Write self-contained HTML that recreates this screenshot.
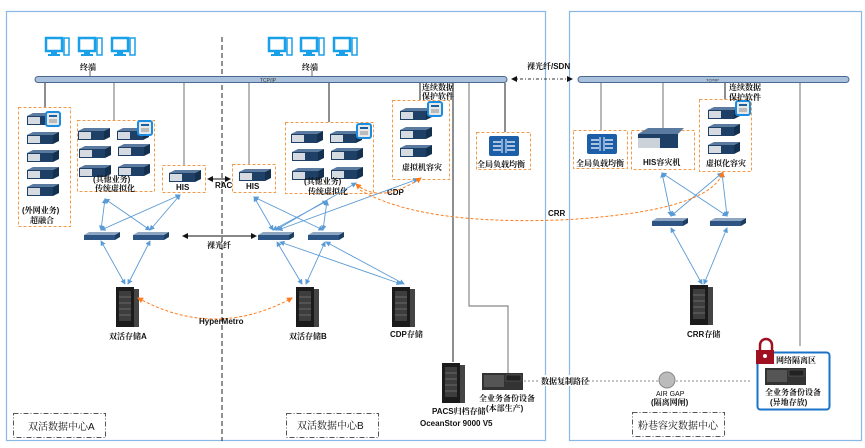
<!DOCTYPE html>
<html><head><meta charset="utf-8"><style>
html,body{margin:0;padding:0;background:#fff;}
svg{display:block;font-family:"Liberation Sans","Noto Serif CJK SC","Noto Sans CJK SC",sans-serif;}
.t{font-size:8px;font-weight:bold;fill:#111;}
</style></head><body>
<svg width="865" height="448" viewBox="0 0 865 448" xmlns="http://www.w3.org/2000/svg">
<defs>
<g id="srv">
<polygon points="0,3 6,0 32,0 26,3" fill="#5a7aa0"/>
<rect x="0" y="3" width="26" height="9" fill="#1e3f66"/>
<polygon points="26,3 32,0 32,9 26,12" fill="#14304f"/>
<rect x="1" y="4" width="12" height="7" fill="#d6dbe2"/>
</g>
<g id="mon">
<rect x="0" y="0" width="16" height="13" fill="#fff" stroke="#1aa0e8" stroke-width="2.5"/>
<rect x="5" y="14" width="6" height="2" fill="#1aa0e8"/>
<rect x="2" y="16" width="12" height="2" fill="#1aa0e8"/>
<rect x="18" y="0" width="5" height="17" fill="#fff" stroke="#1aa0e8" stroke-width="1.5"/>
</g>
<g id="sw">
<polygon points="0,3 5,0 36,0 31,3" fill="#8fa6c2"/>
<rect x="0" y="3" width="31" height="5" fill="#2d5482"/>
<polygon points="31,3 36,0 36,5 31,8" fill="#1c3c60"/>
</g>
<g id="tower">
<rect x="0" y="0" width="18" height="40" fill="#1b1b1b"/>
<rect x="18" y="2" width="5" height="38" fill="#444"/>
<rect x="3" y="4" width="12" height="30" fill="#555" opacity="0.6"/>
<line x1="3" y1="10" x2="15" y2="10" stroke="#888" stroke-width="0.6"/>
<line x1="3" y1="16" x2="15" y2="16" stroke="#888" stroke-width="0.6"/>
<line x1="3" y1="22" x2="15" y2="22" stroke="#888" stroke-width="0.6"/>
<line x1="3" y1="28" x2="15" y2="28" stroke="#888" stroke-width="0.6"/>
</g>
<g id="badge">
<rect x="0" y="0" width="14" height="14" rx="2" fill="#e8e8e8" stroke="#1a8de0" stroke-width="2"/>
<rect x="3" y="3" width="8" height="2" fill="#1a5fa0"/>
<rect x="3" y="7" width="8" height="4" fill="#bbb"/>
</g>
<g id="lb">
<rect x="0" y="0" width="30" height="20" rx="2" fill="#1c5fa8"/>
<path d="M4,6h8M4,10h8M4,14h8M18,6h8M18,10h8M18,14h8" stroke="#fff" stroke-width="1.2"/>
<path d="M13,3v14M17,3v14" stroke="#cfe0f5" stroke-width="1.2"/>
</g>
<g id="bk">
<rect x="0" y="0" width="41" height="17" fill="#333"/>
<rect x="2" y="2" width="20" height="12" fill="#555"/>
<rect x="24" y="2" width="15" height="6" fill="#222" stroke="#666" stroke-width="0.5"/>
</g>
<marker id="ab" markerWidth="6" markerHeight="6" refX="5" refY="3" orient="auto-start-reverse"><path d="M0,0L6,3L0,6z" fill="#5b9bd5"/></marker>
<marker id="ao" markerWidth="6" markerHeight="6" refX="5" refY="3" orient="auto-start-reverse"><path d="M0,0L6,3L0,6z" fill="#ff7a1a"/></marker>
<marker id="ak" markerWidth="6" markerHeight="6" refX="5" refY="3" orient="auto-start-reverse"><path d="M0,0L6,3L0,6z" fill="#111"/></marker>
</defs>

<rect x="6.5" y="11.5" width="539" height="429" fill="none" stroke="#8ab8e6" stroke-width="1.2"/>
<rect x="569.5" y="11.5" width="292" height="429" fill="none" stroke="#8ab8e6" stroke-width="1.2"/>
<line x1="222" y1="37" x2="222" y2="441" stroke="#222" stroke-dasharray="5,3"/>

<use href="#mon" x="46" y="38"/><use href="#mon" x="79" y="38"/><use href="#mon" x="112" y="38"/>
<use href="#mon" x="269" y="38"/><use href="#mon" x="301" y="38"/><use href="#mon" x="334" y="38"/>
<text class="t" x="80" y="70">终端</text><text class="t" x="302" y="70">终端</text>
<line x1="90" y1="70" x2="90" y2="77" stroke="#666"/><line x1="312" y1="70" x2="312" y2="77" stroke="#666"/>

<rect x="35" y="76.5" width="472" height="6" rx="3" fill="#a9c1dc" stroke="#4a6a90"/>
<text x="260" y="82" font-size="5" fill="#333">TCP/IP</text>
<rect x="578" y="76.5" width="271" height="6" rx="3" fill="#a9c1dc" stroke="#4a6a90"/>
<text x="706" y="81.5" font-size="4" fill="#333">TCP/IP</text>
<line x1="512" y1="79" x2="572" y2="79" stroke="#333" stroke-dasharray="3,2,1,2" marker-start="url(#ak)" marker-end="url(#ak)"/>
<text class="t" x="527" y="69">裸光纤/SDN</text>

<g stroke="#444" stroke-width="1.2" fill="none">
<line x1="45" y1="83" x2="45" y2="107"/>
<line x1="114" y1="83" x2="114" y2="120" stroke="#888"/>
<line x1="184" y1="83" x2="184" y2="166" stroke="#888"/>
<line x1="249" y1="83" x2="249" y2="165" stroke="#888"/>
<line x1="329" y1="83" x2="329" y2="122"/>
<line x1="420" y1="83" x2="420" y2="100"/>
<line x1="505" y1="83" x2="505" y2="132"/>
<line x1="453" y1="83" x2="453" y2="362"/>
<polyline points="469,83 469,306 508,306 508,374" stroke="#888"/>
<line x1="601" y1="83" x2="601" y2="130" stroke="#888"/>
<line x1="663" y1="83" x2="663" y2="130" stroke="#888"/>
<line x1="725" y1="83" x2="725" y2="100"/>
<line x1="800" y1="83" x2="800" y2="346" stroke="#888"/>
</g>

<g fill="none" stroke="#f39a4a" stroke-dasharray="3,2">
<rect x="18.5" y="107.5" width="52" height="119"/>
<rect x="77.5" y="120.5" width="77" height="71"/>
<rect x="162.5" y="165.5" width="43" height="27"/>
<rect x="232.5" y="164.5" width="43" height="28"/>
<rect x="285.5" y="122.5" width="88" height="71"/>
<rect x="392.5" y="100.5" width="57" height="79"/>
<rect x="476.5" y="132.5" width="54" height="37"/>
<rect x="573.5" y="130.5" width="54" height="38"/>
<rect x="631.5" y="130.5" width="63" height="39"/>
<rect x="699.5" y="99.5" width="52" height="72"/>
</g>

<use href="#srv" x="27" y="113"/><use href="#srv" x="27" y="132"/><use href="#srv" x="27" y="150"/><use href="#srv" x="27" y="167"/><use href="#srv" x="27" y="184"/>
<use href="#badge" x="46" y="112"/>
<text class="t" x="22" y="213">(外网业务)</text><text class="t" x="30" y="223">超融合</text>
<use href="#srv" x="78" y="128"/><use href="#srv" x="117" y="128"/><use href="#srv" x="79" y="146"/><use href="#srv" x="118" y="144"/><use href="#srv" x="79" y="165"/><use href="#srv" x="118" y="164"/>
<use href="#badge" x="138" y="121"/>
<text class="t" x="93" y="182">(其他业务)</text><text class="t" x="95" y="191">传统虚拟化</text>
<use href="#srv" x="169" y="170"/><text class="t" x="176" y="190">HIS</text>
<use href="#srv" x="239" y="169"/><text class="t" x="246" y="189">HIS</text>
<text class="t" x="215" y="188">RAC</text>
<line x1="208" y1="179" x2="230" y2="179" stroke="#111" marker-start="url(#ak)" marker-end="url(#ak)"/>
<use href="#srv" x="291" y="131"/><use href="#srv" x="330" y="131"/><use href="#srv" x="292" y="149"/><use href="#srv" x="331" y="148"/><use href="#srv" x="292" y="168"/><use href="#srv" x="331" y="167"/>
<use href="#badge" x="357" y="124"/>
<text class="t" x="304" y="184">(其他业务)</text><text class="t" x="308" y="194">传统虚拟化</text>
<use href="#srv" x="400" y="108"/><use href="#srv" x="400" y="127"/><use href="#srv" x="400" y="145"/>
<use href="#badge" x="428" y="102"/>
<text class="t" x="422" y="90">连续数据</text><text class="t" x="422" y="99">保护软件</text>
<text class="t" x="402" y="170">虚拟机容灾</text>
<use href="#lb" x="489" y="136"/><text class="t" x="477" y="167">全局负载均衡</text>
<text class="t" x="387" y="195">CDP</text>

<use href="#lb" x="587" y="134"/><text class="t" x="576" y="166">全局负载均衡</text>
<rect x="638" y="134" width="40" height="14" fill="#1e3f66"/><polygon points="638,134 648,128 684,128 678,134" fill="#5a7aa0"/><rect x="638" y="138" width="22" height="10" fill="#ccd2da"/>
<text class="t" x="643" y="165">HIS容灾机</text>
<use href="#srv" x="708" y="107"/><use href="#srv" x="708" y="124"/><use href="#srv" x="708" y="142"/>
<use href="#badge" x="736" y="101"/>
<text class="t" x="729" y="90">连续数据</text><text class="t" x="729" y="100">保护软件</text>
<text class="t" x="706" y="166">虚拟化容灾</text>

<use href="#sw" x="84" y="232"/><use href="#sw" x="133" y="232"/>
<use href="#sw" x="258" y="232"/><use href="#sw" x="308" y="232"/>
<use href="#sw" x="652" y="218"/><use href="#sw" x="710" y="218"/>
<line x1="183" y1="236" x2="256" y2="236" stroke="#111" marker-start="url(#ak)" marker-end="url(#ak)"/>
<text class="t" x="207" y="248">裸光纤</text>

<g stroke="#5b9bd5" stroke-width="0.9" fill="none" marker-start="url(#ab)" marker-end="url(#ab)">
<line x1="105" y1="199" x2="101" y2="230"/><line x1="105" y1="199" x2="150" y2="230"/>
<line x1="180" y1="195" x2="101" y2="230"/><line x1="180" y1="195" x2="150" y2="230"/>
<line x1="101" y1="241" x2="125" y2="284"/><line x1="150" y1="241" x2="128" y2="284"/>
<line x1="254" y1="197" x2="273" y2="230"/><line x1="254" y1="197" x2="323" y2="230"/>
<line x1="327" y1="201" x2="273" y2="230"/><line x1="327" y1="201" x2="323" y2="230"/>
<line x1="356" y1="183" x2="276" y2="230"/><line x1="418" y1="179" x2="278" y2="230"/>
<line x1="277" y1="242" x2="302" y2="284"/><line x1="325" y1="242" x2="306" y2="284"/>
<line x1="280" y1="242" x2="401" y2="284"/><line x1="326" y1="242" x2="404" y2="284"/>
<line x1="662" y1="173" x2="671" y2="216"/><line x1="662" y1="173" x2="727" y2="216"/>
<line x1="722" y1="173" x2="671" y2="216"/><line x1="722" y1="173" x2="727" y2="216"/>
<line x1="671" y1="228" x2="702" y2="284"/><line x1="727" y1="228" x2="704" y2="284"/>
</g>

<use href="#tower" x="116" y="287"/><text class="t" x="109" y="339">双活存储A</text>
<use href="#tower" x="296" y="287"/><text class="t" x="289" y="339">双活存储B</text>
<use href="#tower" x="392" y="287"/><text class="t" x="390" y="337">CDP存储</text>
<use href="#tower" x="690" y="285"/><text class="t" x="687" y="337">CRR存储</text>
<use href="#tower" x="442" y="363"/>
<text class="t" x="432" y="414">PACS归档存储</text><text class="t" x="420" y="426">OceanStor 9000 V5</text>
<use href="#bk" x="482" y="373"/>
<text class="t" x="479" y="401">全业务备份设备</text><text class="t" x="486" y="411">(本部生产)</text>

<g stroke="#ff7a1a" stroke-dasharray="3,2" fill="none" stroke-width="1">
<path d="M138,298 Q215,340 292,298" marker-start="url(#ao)" marker-end="url(#ao)"/>
<path d="M356,184 Q380,205 421,178" marker-start="url(#ao)" marker-end="url(#ao)"/>
<path d="M360,190 Q420,225 560,220 Q710,212 723,172" marker-end="url(#ao)"/>
</g>
<text class="t" x="199" y="324">HyperMetro</text>
<text class="t" x="548" y="216">CRR</text>

<line x1="524" y1="381" x2="752" y2="381" stroke="#888" stroke-dasharray="2,2"/>
<rect x="540" y="375" width="46" height="11" fill="#fff"/>
<text class="t" x="541" y="384">数据复制路径</text>
<circle cx="667" cy="380" r="8" fill="#bbb" stroke="#888"/>
<text x="656" y="396" font-size="7" fill="#111">AIR GAP</text>
<text class="t" x="651" y="405">(隔离网闸)</text>

<rect x="757.5" y="352.5" width="72" height="57" rx="3" fill="#fff" stroke="#1a73c8" stroke-width="2"/>
<path d="M760,350 v-5 a6,6 0 0 1 12,0 v5" fill="none" stroke="#a01020" stroke-width="2.5"/>
<rect x="756" y="350" width="18" height="14" fill="#a01020"/>
<circle cx="765" cy="356" r="2" fill="#fff"/>
<text class="t" x="776" y="363">网络隔离区</text>
<use href="#bk" x="765" y="368"/>
<text class="t" x="765" y="395">全业务备份设备</text><text class="t" x="770" y="405">(异地存放)</text>

<g fill="none" stroke="#555" stroke-dasharray="5,2,1,2">
<rect x="13.5" y="413.5" width="92" height="24"/>
<rect x="286.5" y="413.5" width="92" height="24"/>
<rect x="632.5" y="412.5" width="92" height="24"/>
</g>
<text x="28" y="430" font-size="10" fill="#111">双活数据中心A</text>
<text x="297" y="429" font-size="10" fill="#111">双活数据中心B</text>
<text x="638" y="429" font-size="10" fill="#111">粉巷容灾数据中心</text>
</svg>
</body></html>
